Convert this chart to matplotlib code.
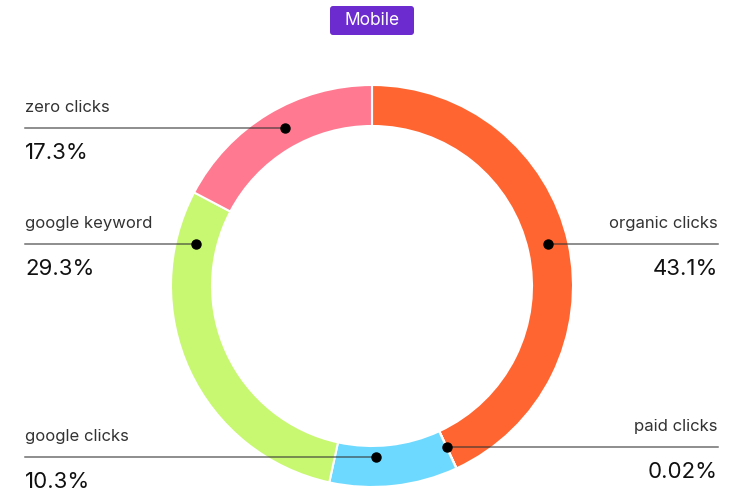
import matplotlib.pyplot as plt
import numpy as np
from matplotlib.patches import FancyBboxPatch

plt.rcParams['font.family'] = ['Inter', 'DejaVu Sans']

W, H = 735, 498

# data
categories = ['organic clicks', 'paid clicks', 'google clicks', 'google keyword', 'zero clicks']
values = [43.1, 0.02, 10.3, 29.3, 17.3]
pct_labels = ['43.1%', '0.02%', '10.3%', '29.3%', '17.3%']
colors = ['#FF6530', '#FF6530', '#6DD9FF', '#C8F772', '#FF7A90']

# label layout: side, leader line y (pixels from top)
sides = ['right', 'right', 'left', 'left', 'left']
line_y = [244, 447, 457, 244, 128]

cx, cy = 372, H - 286
r_out, ring = 201, 41

fig = plt.figure(figsize=(W / 100, H / 100), dpi=100)
ax = fig.add_axes([0, 0, 1, 1])
ax.set_xlim(0, W)
ax.set_ylim(0, H)
ax.set_aspect('equal')
ax.axis('off')

wedges, _ = ax.pie(values, colors=colors, startangle=90, counterclock=False,
                   center=(cx, cy), radius=r_out,
                   wedgeprops=dict(width=ring, edgecolor='white', linewidth=1.5))
ax.set_xlim(0, W)
ax.set_ylim(0, H)

r_mid = r_out - ring / 2
for w, name, pct, side, ly in zip(wedges, categories, pct_labels, sides, line_y):
    y = H - ly
    dy = y - cy
    # dot sits where the leader line meets the ring, inside its own wedge
    a1, a2 = np.radians(w.theta1), np.radians(w.theta2)
    amid = (a1 + a2) / 2
    dx = np.sqrt(max(r_mid ** 2 - dy ** 2, 0))
    cand = [cx + dx, cx - dx]
    xs = [c for c in cand if np.cos(amid) * (c - cx) >= 0] or cand
    x_dot = xs[0]
    if name == 'google clicks':
        x_dot = cx + 4
    if name == 'paid clicks':
        x_dot = cx + 75
    if side == 'left':
        ax.plot([25, x_dot], [y, y], color='#333333', alpha=0.7, lw=1.1, zorder=3)
        ax.text(25, y + 21, name, ha='left', va='center', fontsize=12, color='#333333')
        ax.text(25, y - 25, pct, ha='left', va='center', fontsize=16, color='#111111')
    else:
        ax.plot([x_dot, 718], [y, y], color='#333333', alpha=0.7, lw=1.1, zorder=3)
        ax.text(718, y + 21, name, ha='right', va='center', fontsize=12, color='#333333')
        ax.text(718, y - 25, pct, ha='right', va='center', fontsize=16, color='#111111')
    ax.plot(x_dot, y, 'o', color='black', markersize=6.5, zorder=4)

# "Mobile" badge
badge = FancyBboxPatch((330, H - 35), 84, 29, boxstyle='round,pad=0,rounding_size=3',
                       fc='#6C2BCF', ec='none', zorder=5)
ax.add_patch(badge)
ax.text(372, H - 20.5, 'Mobile', ha='center', va='center', fontsize=12.5, color='white',
        zorder=6)

fig.savefig('out.png', dpi=100)
